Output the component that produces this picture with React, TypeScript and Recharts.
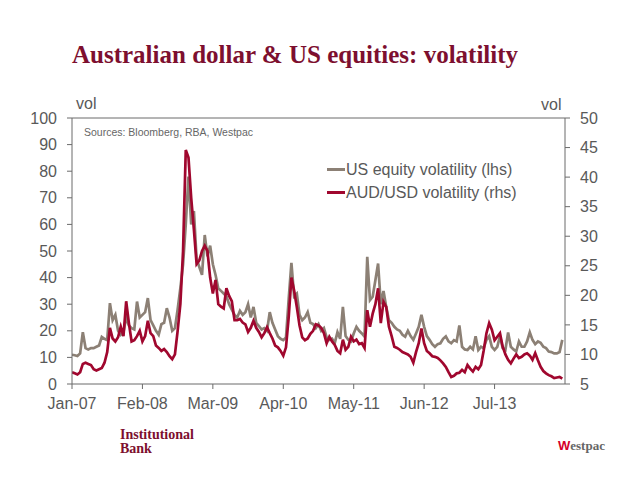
import React from 'react';
import {
  LineChart, Line, XAxis, YAxis, ReferenceLine,
} from 'recharts';

// half-month steps starting Jan-07; US equity vol on lhs, AUD/USD vol on rhs
const usEq2007 = [11, 10.8, 10.5, 11.5, 19.5, 13.5, 13, 13.5, 13.5, 14, 14.5, 17.7, 17, 16.5, 30.4, 24, 26, 20, 18.5, 19.5, 25, 22, 21, 20.5];
const usEq2008 = [31, 25, 26, 27, 32.3, 24, 22, 20, 18.5, 22.5, 23, 28.5, 25, 20, 21, 28, 36, 45, 60, 78, 60, 65, 47, 44];
const usEq2009 = [41, 56, 48, 52, 45, 41, 36, 35, 34, 33, 30, 28, 26, 25, 27.5, 26, 27, 30, 25, 29, 23, 21.8, 20.5, 21];
const usEq2010 = [20, 27, 23, 20.5, 18, 17, 16.5, 17.5, 32, 45.5, 33, 34, 26, 24, 25, 27, 23, 22.5, 21, 22.5, 20, 21, 17.5, 16.6];
const usEq2011 = [17, 15.4, 19.5, 17, 29, 18, 16.6, 16, 19, 21.5, 20, 19, 17.8, 47.8, 31.5, 32.8, 39, 45.3, 30, 35, 29, 24, 23, 21.5];
const usEq2012 = [20.5, 20, 18.5, 17.8, 20, 18, 16.6, 19, 21.5, 26, 21.5, 18, 16.6, 15, 14, 15, 15.3, 17, 17.9, 16, 15.3, 16.5, 16, 22];
const usEq2013 = [14, 13, 12.8, 14, 13, 17.9, 12.8, 14, 13.5, 16.6, 18, 14, 12.8, 14, 18, 13.5, 12.8, 19.4, 14, 13, 12.2, 16, 14, 14];
const usEq2014 = [16, 19.4, 16.6, 15, 16, 15.5, 14, 13.5, 12.2, 12, 11.5, 11.5, 12, 16.6];

const aud2007 = [7.0, 6.8, 6.6, 7.0, 8.4, 8.6, 8.4, 8.2, 7.5, 7.3, 7.5, 7.7, 8.6, 10.4, 14.5, 12.7, 12.2, 12.9, 14.7, 13.1, 19.0, 15.3, 12.2, 12.4];
const aud2008 = [13.1, 14.0, 12.2, 13.1, 15.7, 13.6, 13.1, 11.5, 11.1, 10.6, 10.9, 10.4, 9.7, 9.2, 10.0, 14.0, 18.5, 27.5, 44.6, 43.3, 36.5, 31.1, 25.3, 25.9];
const aud2009 = [27.5, 28.4, 27.5, 23, 20.3, 22.6, 18.5, 18.1, 17.8, 21.2, 19.9, 19.0, 15.8, 15.8, 16.0, 15.4, 15.1, 13.8, 14.5, 15.7, 14.5, 13.8, 12.9, 13.6];
const aud2010 = [14.6, 13.6, 12.7, 11.5, 11.2, 10.6, 9.8, 11.2, 16.3, 23, 20.8, 18.0, 14.9, 12.9, 12.4, 12.7, 13.5, 14, 15.1, 14.9, 14.5, 13.6, 11.9, 13.0];
const aud2011 = [12.2, 11.6, 10.6, 10.2, 12.5, 10.8, 11.3, 13.0, 12.2, 12.5, 11.75, 11.9, 11.1, 17.5, 14.7, 16.9, 18.5, 21.2, 15.3, 18.9, 18.05, 14.7, 13.1, 11.3];
const aud2012 = [11.1, 10.8, 10.4, 10.2, 10.0, 9.6, 8.6, 10.4, 11.9, 14.4, 11.9, 10.6, 10.2, 9.7, 9.6, 9.4, 9.0, 8.5, 7.9, 7.0, 6.2, 6.4, 6.8, 6.9];
const aud2013 = [7.4, 7.0, 8.2, 7.6, 7.1, 7.9, 7.5, 8.2, 10.7, 13.6, 15.3, 14.2, 12.4, 13.0, 13.6, 11.3, 10.0, 9.1, 8.5, 9.3, 10, 9.4, 9.6, 10.0];
const aud2014 = [10.2, 9.8, 9.1, 10.2, 9.0, 7.9, 7.2, 6.8, 6.5, 6.3, 6.0, 6.1, 6.2, 5.9];

const tickMonths = [0, 13, 26, 39, 52, 65, 78];
const tickLabels = ['Jan-07', 'Feb-08', 'Mar-09', 'Apr-10', 'May-11', 'Jun-12', 'Jul-13'];
const leftTicks = [0, 10, 20, 30, 40, 50, 60, 70, 80, 90, 100];
const rightTicks = [5, 10, 15, 20, 25, 30, 35, 40, 45, 50];

const usEquity = [...usEq2007, ...usEq2008, ...usEq2009, ...usEq2010, ...usEq2011, ...usEq2012, ...usEq2013, ...usEq2014];
const audUsd = [...aud2007, ...aud2008, ...aud2009, ...aud2010, ...aud2011, ...aud2012, ...aud2013, ...aud2014];

const data = usEquity.map((v, i) => ({ t: i * 0.5, us: v, aud: audUsd[i] }));

const GREY = '#8c8075';
const RED = '#a0072e';
const AXIS = '#6b6b6b';
const TEXT = '#595959';
const font = '"Liberation Sans", Arial, sans-serif';
const serif = '"Liberation Serif", "Times New Roman", serif';

const tickStyle = { fill: TEXT, fontSize: 16, fontFamily: font };

const seriesKeys = [
  { label: 'US equity volatility (lhs)', color: GREY },
  { label: 'AUD/USD volatility (rhs)', color: RED },
];

function LegendBox() {
  return (
    <div style={{ position: 'absolute', left: 327, top: 158, fontFamily: font, fontSize: 16, color: TEXT }}>
      {seriesKeys.map(it => (
        <div key={it.label} style={{ display: 'flex', alignItems: 'center', height: 23, whiteSpace: 'nowrap' }}>
          <span style={{ display: 'inline-block', width: 18, height: 3, background: it.color, marginRight: 1 }} />
          <span>{it.label}</span>
        </div>
      ))}
    </div>
  );
}

export default function App() {
  return (
    <div style={{ position: 'absolute', left: 0, top: 0, width: 638, height: 479, background: '#fff' }}>
      <div style={{
        position: 'absolute', left: 72, top: 41, fontFamily: serif,
        fontWeight: 'bold', fontSize: 25, color: '#7d0f2f', whiteSpace: 'nowrap',
      }}>
        Australian dollar &amp; US equities: volatility
      </div>
      <LineChart
        width={638}
        height={479}
        data={data}
        margin={{ top: 118, right: 23, left: 22, bottom: 65 }}
      >
        <XAxis
          dataKey="t"
          type="number"
          domain={[0, 91]}
          ticks={tickMonths}
          tickFormatter={(m: number) => tickLabels[tickMonths.indexOf(m)] ?? ''}
          stroke={AXIS}
          tick={tickStyle}
          tickSize={5}
          tickMargin={9}
          height={30}
          allowDataOverflow
        />
        <YAxis
          yAxisId="left"
          domain={[0, 100]}
          ticks={leftTicks}
          stroke={AXIS}
          tick={tickStyle}
          tickSize={5}
          tickMargin={10}
          width={50}
          interval={0}
        />
        <YAxis
          yAxisId="right"
          orientation="right"
          domain={[5, 50]}
          ticks={rightTicks}
          stroke={AXIS}
          tick={tickStyle}
          tickSize={5}
          tickMargin={10}
          width={50}
          interval={0}
        />
        <ReferenceLine yAxisId="left" y={100} stroke={AXIS} strokeWidth={1} />
        <Line
          yAxisId="left"
          dataKey="us"
          type="linear"
          stroke={GREY}
          strokeWidth={2.7}
          dot={false}
          isAnimationActive={false}
        />
        <Line
          yAxisId="right"
          dataKey="aud"
          type="linear"
          stroke={RED}
          strokeWidth={2.7}
          dot={false}
          isAnimationActive={false}
        />
      </LineChart>
      <LegendBox />
      <div style={{ position: 'absolute', left: 76, top: 95, fontFamily: font, fontSize: 16, color: TEXT }}>vol</div>
      <div style={{ position: 'absolute', left: 541, top: 96, fontFamily: font, fontSize: 16, color: TEXT }}>vol</div>
      <div style={{ position: 'absolute', left: 84, top: 126, fontFamily: font, fontSize: 10.5, color: '#666' }}>
        Sources: Bloomberg, RBA, Westpac
      </div>
      <div style={{
        position: 'absolute', left: 120, top: 428, fontFamily: serif,
        fontWeight: 'bold', fontSize: 14, lineHeight: '14px', color: '#7d0f2f',
      }}>
        Institutional<br />Bank
      </div>
      <div style={{
        position: 'absolute', left: 558, top: 438, fontFamily: serif,
        fontWeight: 'bold', fontSize: 13, color: '#666',
      }}>
        <span style={{ color: '#d5002b', fontFamily: font, fontWeight: 900 }}>W</span>estpac
      </div>
    </div>
  );
}
